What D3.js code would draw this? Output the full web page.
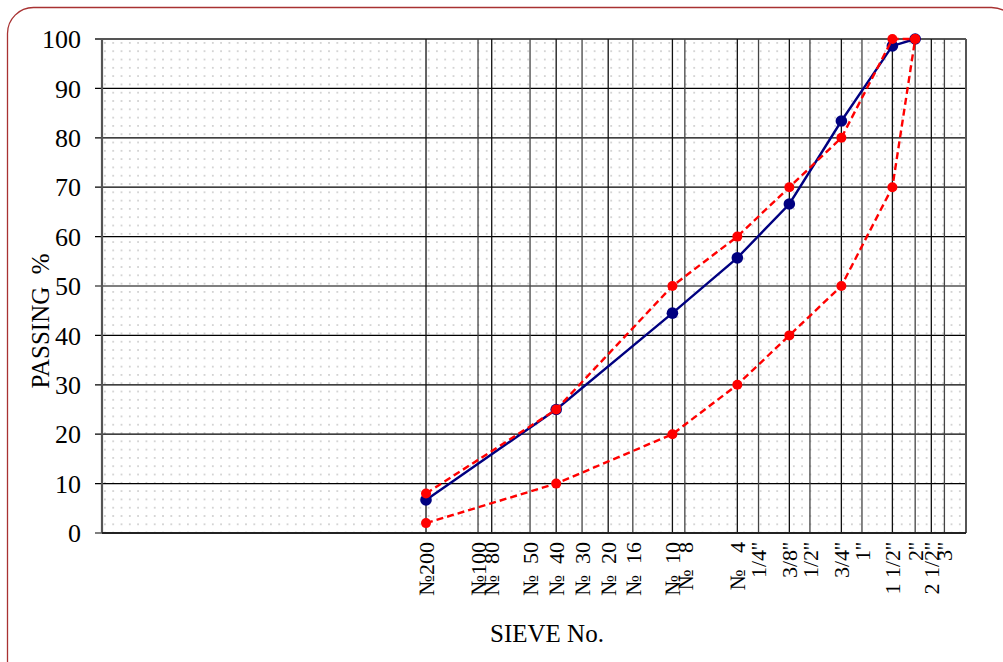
<!DOCTYPE html>
<html>
<head>
<meta charset="utf-8">
<script src="https://cdn.jsdelivr.net/npm/d3@7"></script>
<style>
  body { margin: 0; background: #fff; overflow: hidden; }
  svg text { font-family: "Liberation Serif", "Times New Roman", serif; fill: #000; }
</style>
</head>
<body>
<figure id="chart" style="margin:0"></figure>
<script>
// sieve sizes in mm and their labels
const sieveSizes = [0.075, 0.15, 0.18, 0.3, 0.425, 0.6, 0.85, 1.18, 2.0, 2.36, 4.75, 6.3, 9.5, 12.5, 19, 25, 37.5, 50.8, 63, 75];
const sieveLabels = ["№200", "№100", "№  80", "№  50", "№  40", "№  30", "№  20", "№  16", "№  10", "№   8", "№   4", "1/4''", "3/8''", "1/2''", "3/4''", "1''", "1 1/2''", "2''", "2 1/2''", "3''"];

// sieves used for the gradation
const testSieves = [0.075, 0.425, 2.0, 4.75, 9.5, 19, 37.5, 50.8];
const passing = [6.7, 25, 44.5, 55.7, 66.6, 83.4, 98.6, 100];
const upperLimit = [8, 25, 50, 60, 70, 80, 100, 100];
const lowerLimit = [2, 10, 20, 30, 40, 50, 70, 100];

const yTicks = [0, 10, 20, 30, 40, 50, 60, 70, 80, 90, 100];

const width = 1003, height = 662;
const plotLeft = 102, plotRight = 966, plotTop = 39, plotBottom = 533;

const svg = d3.select("figure#chart")
  .append("svg")
  .attr("width", width)
  .attr("height", height);

// dotted fill pattern
const defs = svg.append("defs");
const pat = defs.append("pattern")
  .attr("id", "dots")
  .attr("patternUnits", "userSpaceOnUse")
  .attr("x", plotLeft + 2).attr("y", plotTop + 3)
  .attr("width", 8.3).attr("height", 8.3);
pat.append("rect").attr("width", 1.8).attr("height", 1.8).attr("fill", "#d2d2d2");

// outer rounded frame
svg.append("rect")
  .attr("x", 7.5).attr("y", 7.5)
  .attr("width", 1010).attr("height", 680)
  .attr("rx", 26).attr("ry", 26)
  .attr("fill", "none")
  .attr("stroke", "#a83232")
  .attr("stroke-width", 1.3);

const x = d3.scaleLog().domain([0.001, 100]).range([plotLeft, plotRight]);
const y = d3.scaleLinear().domain([0, 100]).range([plotBottom, plotTop]);

svg.append("rect")
  .attr("x", plotLeft).attr("y", plotTop)
  .attr("width", plotRight - plotLeft).attr("height", plotBottom - plotTop)
  .attr("fill", "url(#dots)");

// horizontal grid
svg.append("g")
  .selectAll("line")
  .data(yTicks)
  .enter()
  .append("line")
  .attr("x1", plotLeft - 7).attr("x2", plotRight)
  .attr("y1", d => y(d)).attr("y2", d => y(d))
  .attr("stroke", d => d === 100 ? "#555" : "#000")
  .attr("stroke-width", d => d === 100 ? 2 : 1.2);

// vertical grid at each sieve
svg.append("g")
  .selectAll("line")
  .data(sieveSizes)
  .enter()
  .append("line")
  .attr("x1", d => x(d)).attr("x2", d => x(d))
  .attr("y1", plotTop).attr("y2", plotBottom)
  .attr("stroke", (d, i) => i % 2 ? "#444" : "#111")
  .attr("stroke-width", 1.3);

// frame of plot area
svg.append("line").attr("x1", plotLeft).attr("x2", plotLeft).attr("y1", plotTop).attr("y2", plotBottom)
  .attr("stroke", "#555").attr("stroke-width", 2.2);
svg.append("line").attr("x1", plotRight).attr("x2", plotRight).attr("y1", plotTop).attr("y2", plotBottom)
  .attr("stroke", "#555").attr("stroke-width", 2);
svg.append("line").attr("x1", plotLeft).attr("x2", plotRight).attr("y1", plotBottom).attr("y2", plotBottom)
  .attr("stroke", "#222").attr("stroke-width", 2);

// y tick labels
svg.append("g")
  .selectAll("text")
  .data(yTicks)
  .enter()
  .append("text")
  .attr("x", 81)
  .attr("y", d => y(d))
  .attr("dy", "0.35em")
  .style("text-anchor", "end")
  .style("font-size", "26px")
  .text(d => d);

// x tick labels (rotated)
svg.append("g")
  .selectAll("text")
  .data(sieveSizes)
  .enter()
  .append("text")
  .attr("transform", d => "translate(" + x(d) + ",542) rotate(-90)")
  .attr("dy", "0.35em")
  .style("text-anchor", "end")
  .style("font-size", "22px")
  .style("white-space", "pre")
  .text((d, i) => sieveLabels[i]);

// axis titles
svg.append("text")
  .attr("transform", "translate(49,321) rotate(-90)")
  .style("text-anchor", "middle")
  .style("font-size", "25px")
  .style("white-space", "pre")
  .text("PASSING  %");

svg.append("text")
  .attr("x", 547).attr("y", 642)
  .style("text-anchor", "middle")
  .style("font-size", "25px")
  .text("SIEVE No.");

const line = d3.line()
  .x(d => x(d[0]))
  .y(d => y(d[1]));

function drawSeries(values, color, dashed, r) {
  const pts = testSieves.map((s, i) => [s, values[i]]);
  svg.append("path")
    .datum(pts)
    .attr("d", line)
    .attr("fill", "none")
    .attr("stroke", color)
    .attr("stroke-width", 2.4)
    .attr("stroke-dasharray", dashed ? "7,4" : null);
  svg.append("g")
    .selectAll("circle")
    .data(pts)
    .enter()
    .append("circle")
    .attr("cx", d => x(d[0]))
    .attr("cy", d => y(d[1]))
    .attr("r", r)
    .attr("fill", color);
}

drawSeries(passing, "#000080", false, 5.8);
drawSeries(upperLimit, "#ff0000", true, 5);
drawSeries(lowerLimit, "#ff0000", true, 5);
</script>
</body>
</html>
